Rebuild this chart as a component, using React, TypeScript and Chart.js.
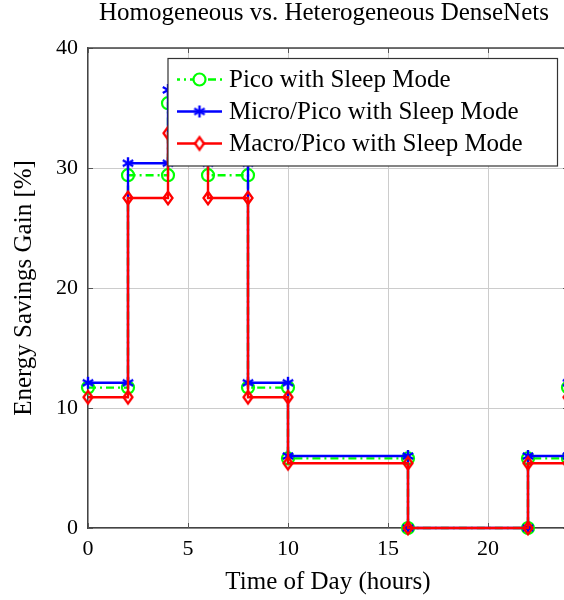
import React, { useEffect, useRef } from 'react';
import { Chart, registerables } from 'chart.js';
Chart.register(...registerables);

const titleText = 'Homogeneous vs. Heterogeneous DenseNets';
const xTitle = 'Time of Day (hours)';
const yTitle = 'Energy Savings Gain [%]';
const hours = [0, 2, 2, 4, 4, 6, 6, 8, 8, 10, 10, 16, 16, 22, 22, 24, 24];
const picoSleep = [11.7, 11.7, 29.4, 29.4, 35.4, 35.4, 29.4, 29.4, 11.7, 11.7, 5.8, 5.8, 0, 0, 5.8, 5.8, 11.7];
const microPicoSleep = [12.1, 12.1, 30.4, 30.4, 36.5, 36.5, 30.4, 30.4, 12.1, 12.1, 6.0, 6.0, 0, 0, 6.0, 6.0, 12.1];
const macroPicoSleep = [10.9, 10.9, 27.5, 27.5, 32.9, 32.9, 27.5, 27.5, 10.9, 10.9, 5.4, 5.4, 0, 0, 5.4, 5.4, 10.9];
const seriesLabels = ['Pico with Sleep Mode', 'Micro/Pico with Sleep Mode', 'Macro/Pico with Sleep Mode'];
const xTicks = [0, 5, 10, 15, 20];
const yTicks = [0, 10, 20, 30, 40];

const FONT = "'Liberation Serif', 'Times New Roman', serif";

function makeAsterisk(color: string) {
  const c = document.createElement('canvas');
  c.width = 16; c.height = 16;
  const g = c.getContext('2d')!;
  g.strokeStyle = color; g.lineWidth = 2.4;
  const r = 6;
  for (let k = 0; k < 3; k++) {
    const a = Math.PI / 2 + (k * Math.PI) / 3;
    g.beginPath();
    g.moveTo(8 + r * Math.cos(a), 8 + r * Math.sin(a));
    g.lineTo(8 - r * Math.cos(a), 8 - r * Math.sin(a));
    g.stroke();
  }
  return c;
}

function makeDiamond(color: string) {
  const c = document.createElement('canvas');
  c.width = 14; c.height = 18;
  const g = c.getContext('2d')!;
  g.strokeStyle = color; g.lineWidth = 2.3;
  g.beginPath();
  g.moveTo(7, 2.8); g.lineTo(11.5, 9); g.lineTo(7, 15.2); g.lineTo(2.5, 9); g.closePath();
  g.stroke();
  return c;
}

export default function App() {
  const ref = useRef<HTMLCanvasElement>(null);
  useEffect(() => {
    const canvas = ref.current!;
    const star = makeAsterisk('#0000ff');
    const diamond = makeDiamond('#ff0000');
    const toPts = (ys: number[]) => hours.map((h, i) => ({ x: h, y: ys[i] }));

    const framePlugin = {
      id: 'frame',
      beforeDatasetsDraw(chart: any) {
        const { ctx, chartArea: a, scales } = chart;
        ctx.save();
        ctx.strokeStyle = '#555';
        ctx.lineWidth = 1;
        xTicks.forEach((v) => {
          const x = Math.round(scales.x.getPixelForValue(v)) + 0.5;
          ctx.beginPath(); ctx.moveTo(x, a.bottom); ctx.lineTo(x, a.bottom - 5); ctx.stroke();
          ctx.beginPath(); ctx.moveTo(x, a.top); ctx.lineTo(x, a.top + 5); ctx.stroke();
        });
        yTicks.forEach((v) => {
          const y = Math.round(scales.y.getPixelForValue(v)) + 0.5;
          ctx.beginPath(); ctx.moveTo(a.left, y); ctx.lineTo(a.left + 5, y); ctx.stroke();
          ctx.beginPath(); ctx.moveTo(a.right, y); ctx.lineTo(a.right - 5, y); ctx.stroke();
        });
        ctx.strokeStyle = '#444';
        ctx.lineWidth = 1.4;
        ctx.beginPath();
        ctx.moveTo(a.left, a.top); ctx.lineTo(a.right, a.top); ctx.lineTo(a.right, a.bottom);
        ctx.stroke();
        ctx.fillStyle = '#000';
        ctx.font = `25px ${FONT}`;
        ctx.textAlign = 'center';
        ctx.textBaseline = 'alphabetic';
        ctx.fillText(titleText, 324, 20);
        ctx.restore();
      },
    };

    const legendPlugin = {
      id: 'pgfLegend',
      afterDatasetsDraw(chart: any) {
        const { ctx } = chart;
        const bx = 168, by = 58.5, bw = 389.5, bh = 107.5;
        ctx.save();
        ctx.fillStyle = '#ffffff';
        ctx.fillRect(bx, by, bw, bh);
        ctx.strokeStyle = '#333';
        ctx.lineWidth = 1.2;
        ctx.strokeRect(bx, by, bw, bh);
        const rows = [79.5, 111.5, 143.5];
        const colors = ['#00ff00', '#0000ff', '#ff0000'];
        rows.forEach((ry, i) => {
          ctx.strokeStyle = colors[i];
          ctx.lineWidth = 2.4;
          ctx.setLineDash(i === 0 ? [8, 4, 2, 4] : []);
          ctx.lineDashOffset = i === 0 ? 5 : 0;
          ctx.beginPath(); ctx.moveTo(177, ry); ctx.lineTo(222, ry); ctx.stroke();
          ctx.setLineDash([]);
          const mx = 199.5;
          if (i === 0) {
            ctx.fillStyle = '#fff';
            ctx.lineWidth = 2.2;
            ctx.beginPath(); ctx.arc(mx, ry, 6, 0, Math.PI * 2); ctx.fill(); ctx.stroke();
          } else {
            const img = i === 1 ? star : diamond;
            if (i === 2) { ctx.fillStyle = '#fff'; ctx.beginPath(); ctx.moveTo(mx, ry - 5); ctx.lineTo(mx + 3.5, ry); ctx.lineTo(mx, ry + 5); ctx.lineTo(mx - 3.5, ry); ctx.fill(); }
            ctx.drawImage(img, mx - img.width / 2, ry - img.height / 2);
          }
          ctx.fillStyle = '#000';
          ctx.font = `25px ${FONT}`;
          ctx.textBaseline = 'middle';
          ctx.textAlign = 'left';
          ctx.fillText(seriesLabels[i], 229, ry + 1);
        });
        ctx.restore();
      },
    };

    const chart = new Chart(canvas, {
      type: 'line',
      data: {
        datasets: [
          {
            label: seriesLabels[0],
            data: toPts(picoSleep),
            borderColor: '#00ff00',
            borderWidth: 2.4,
            borderDash: [8, 4, 2, 4],
            pointStyle: 'circle',
            pointRadius: 6,
            pointBorderWidth: 2.2,
            pointBorderColor: '#00ff00',
            pointBackgroundColor: 'rgba(0,0,0,0)',
            clip: false as any,
            order: 2,
          },
          {
            label: seriesLabels[1],
            data: toPts(microPicoSleep),
            borderColor: '#0000ff',
            borderWidth: 2.4,
            pointStyle: star as any,
            pointRadius: 5,
            clip: false as any,
            order: 1,
          },
          {
            label: seriesLabels[2],
            data: toPts(macroPicoSleep),
            borderColor: '#ff0000',
            borderWidth: 2.4,
            pointStyle: diamond as any,
            pointRadius: 5,
            clip: false as any,
            order: 0,
          },
        ],
      },
      options: {
        animation: false,
        responsive: false,
        layout: { padding: { left: 0, right: 80, top: 48, bottom: 0 } },
        plugins: {
          legend: { display: false },
          tooltip: { enabled: false },
          title: { display: false },
        },
        scales: {
          x: {
            type: 'linear',
            min: 0,
            max: 24,
            afterBuildTicks: (s: any) => { s.ticks = xTicks.map((v) => ({ value: v })); },
            afterFit: (s: any) => { s.height = 72; },
            grid: { color: '#cccccc', lineWidth: 1, drawTicks: false },
            border: { color: '#444', width: 1.4 },
            ticks: { color: '#000', padding: 8, font: { family: FONT, size: 22 }, maxRotation: 0 },
            title: {
              display: true,
              text: xTitle,
              color: '#000',
              font: { family: FONT, size: 25, lineHeight: 1.2 },
              padding: { top: 0, bottom: 3 },
            },
          },
          y: {
            type: 'linear',
            min: 0,
            max: 40,
            afterBuildTicks: (s: any) => { s.ticks = yTicks.map((v) => ({ value: v })); },
            afterFit: (s: any) => { s.width = 88; },
            grid: { color: '#cccccc', lineWidth: 1, drawTicks: false },
            border: { color: '#444', width: 1.4 },
            ticks: { color: '#000', padding: 10, font: { family: FONT, size: 22 } },
            title: {
              display: true,
              text: yTitle,
              color: '#000',
              font: { family: FONT, size: 25, lineHeight: 1.2 },
              padding: { top: 9, bottom: 0 },
            },
          },
        },
      },
      plugins: [framePlugin, legendPlugin],
    } as any);
    return () => chart.destroy();
  }, []);

  return (
    <div style={{ position: 'absolute', left: 0, top: 0, width: 564, height: 600, overflow: 'hidden', background: '#fff' }}>
      <canvas ref={ref} width={648} height={600} style={{ display: 'block' }} />
    </div>
  );
}
